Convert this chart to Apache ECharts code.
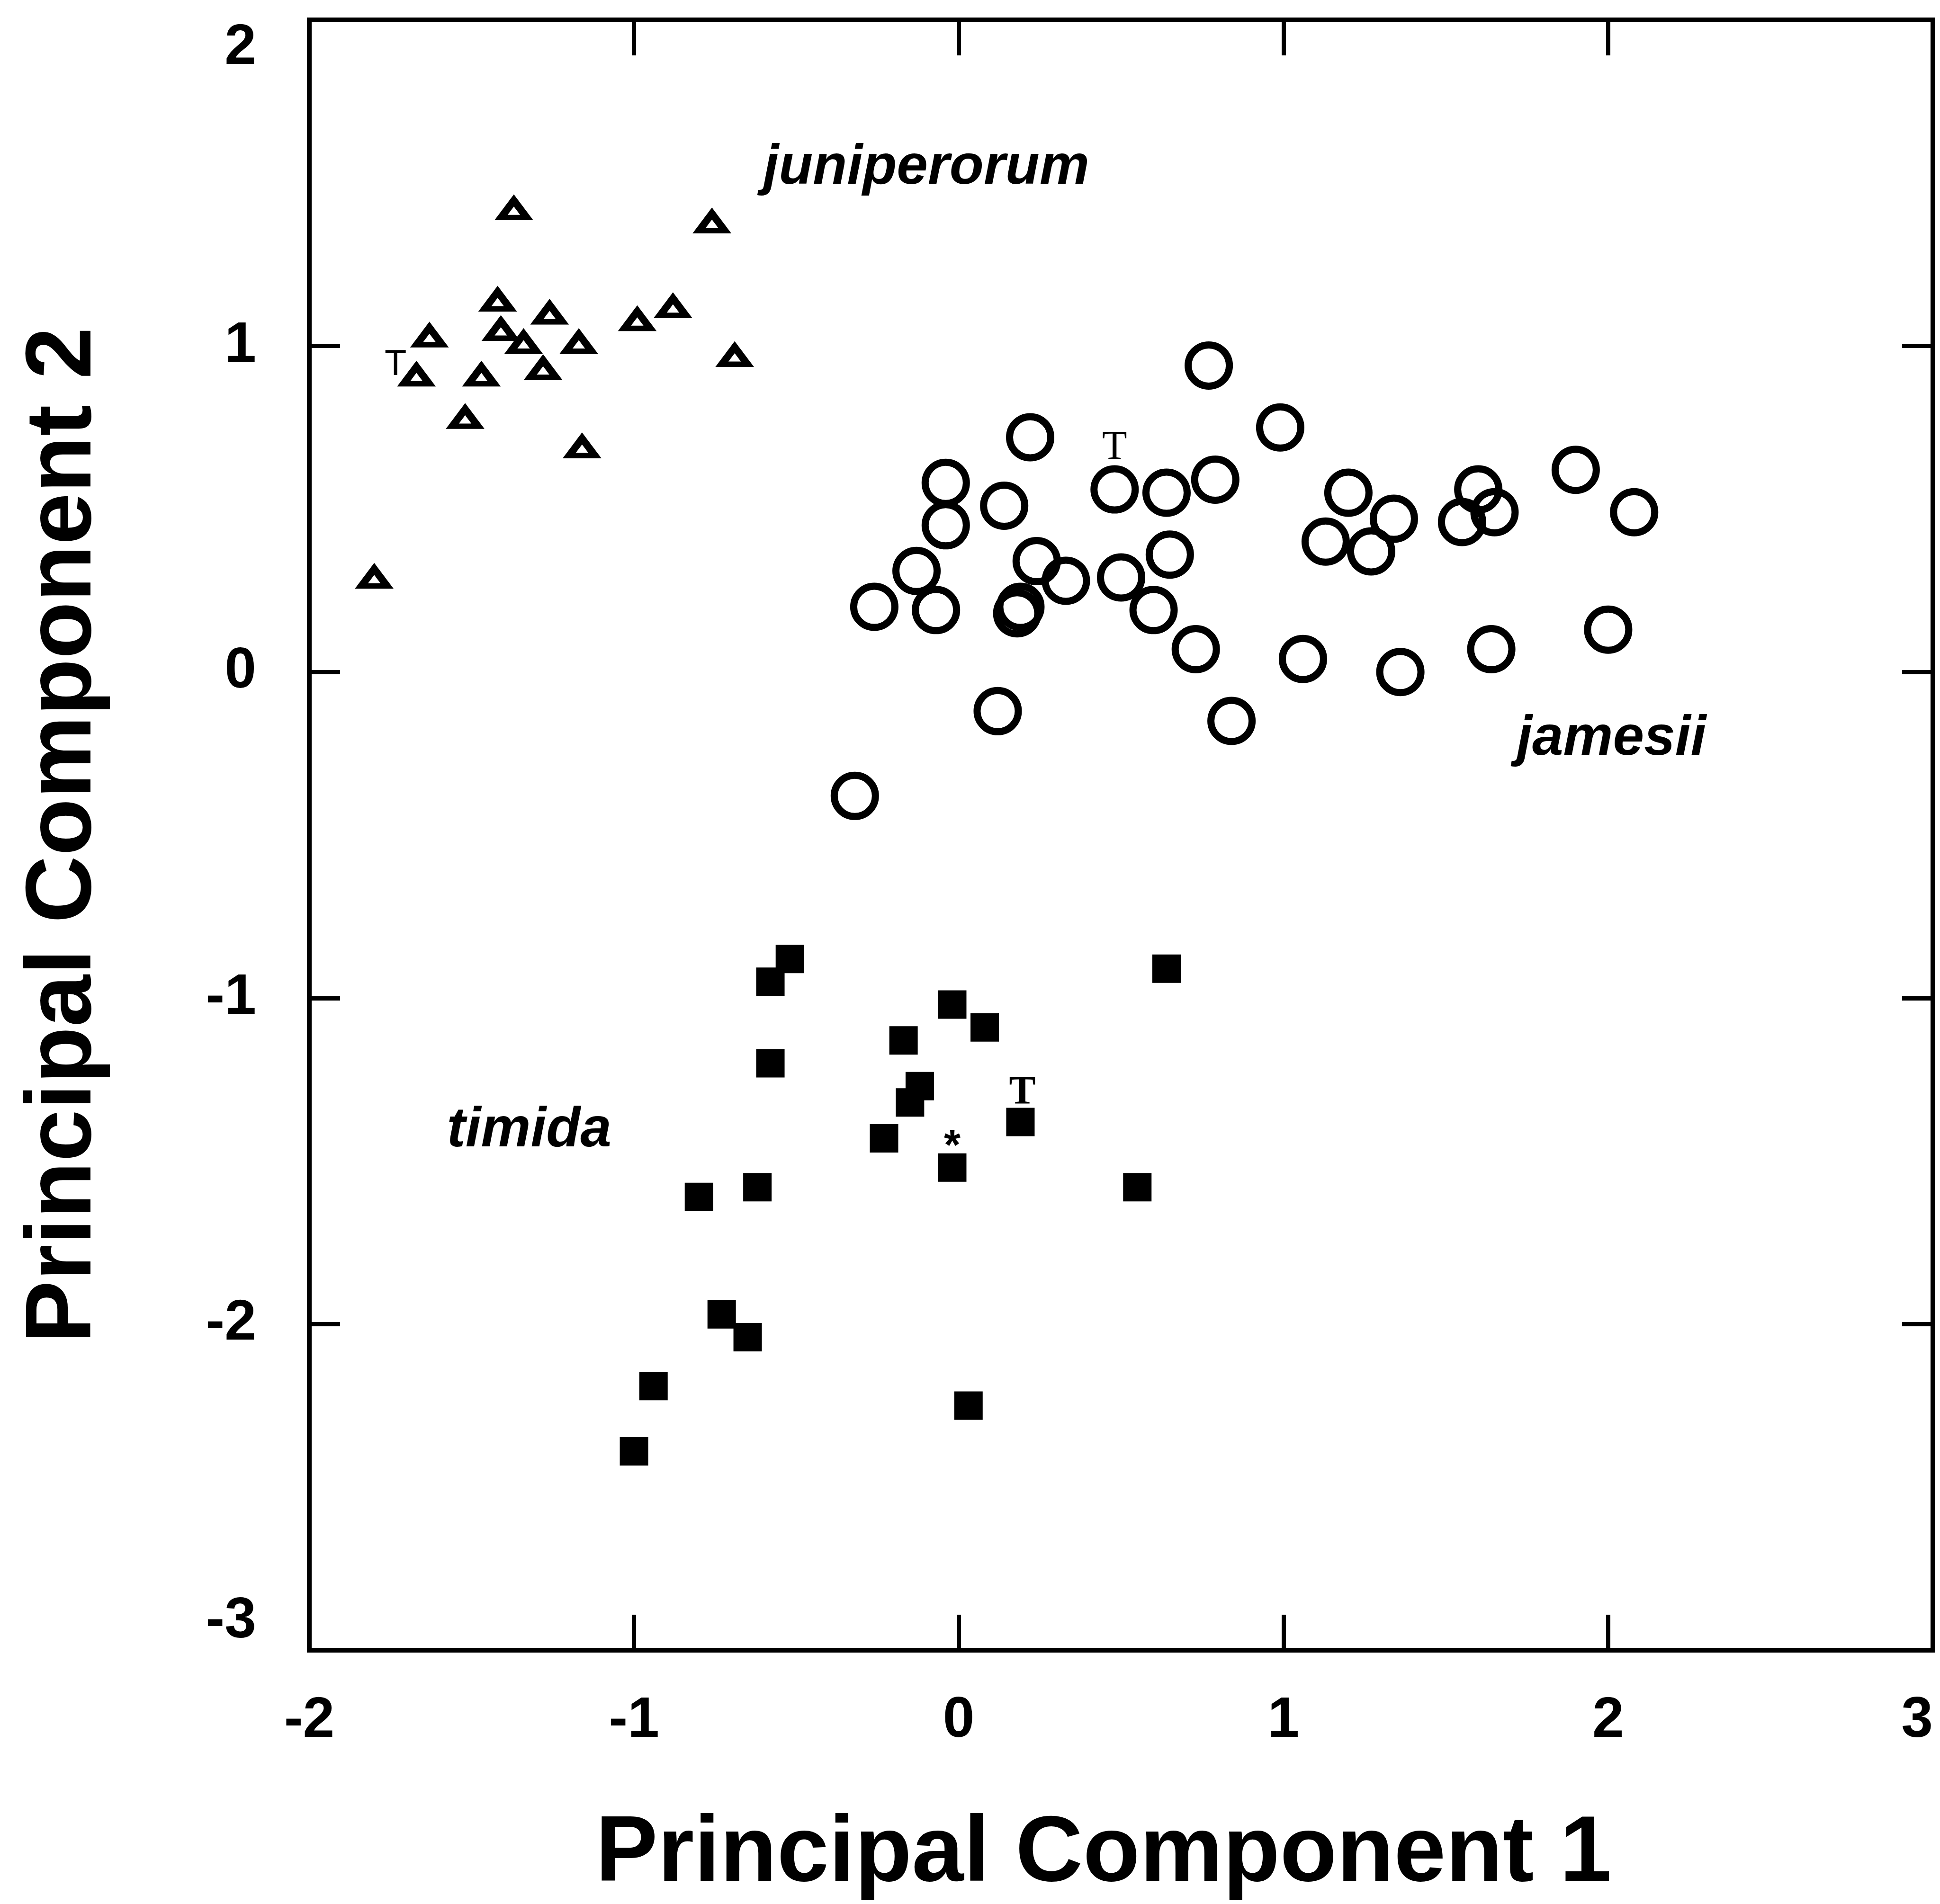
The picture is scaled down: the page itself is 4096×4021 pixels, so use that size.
<!DOCTYPE html>
<html>
<head>
<meta charset="utf-8">
<title>Principal Component 1 vs 2</title>
<script src="https://cdn.jsdelivr.net/npm/echarts@6.0.0/dist/echarts.min.js"></script>
<style>
html, body { margin: 0; padding: 0; background: #fff; }
#chart { width: 4096px; height: 4021px; }
</style>
</head>
<body>
<div id="chart"></div>
<script>
// axis ranges (ticks every 1)
const xTicks = [-2, -1, 0, 1, 2, 3]
const yTicks = [-3, -2, -1, 0, 1, 2]

// juniperorum - open triangles [PC1, PC2]
const juniperorum = [
  [-1.37, 1.42], [-0.76, 1.38], [-1.42, 1.14], [-1.26, 1.10], [-0.99, 1.08],
  [-0.88, 1.12], [-1.63, 1.03], [-1.41, 1.05], [-1.34, 1.01], [-1.17, 1.01],
  [-0.69, 0.97], [-1.67, 0.91], [-1.47, 0.91], [-1.28, 0.93], [-1.52, 0.78],
  [-1.16, 0.69], [-1.80, 0.29]
]

// jamesii - open circles
const jamesii = [
  [0.77, 0.94], [0.22, 0.72], [0.99, 0.75], [0.48, 0.56], [0.64, 0.55],
  [0.79, 0.59], [-0.04, 0.58], [-0.04, 0.45], [0.14, 0.51], [-0.13, 0.31],
  [-0.26, 0.20], [-0.07, 0.19], [0.24, 0.34], [0.33, 0.28], [0.18, 0.18],
  [0.19, 0.20], [0.50, 0.29], [0.65, 0.36], [0.60, 0.19], [0.73, 0.07],
  [1.06, 0.04], [1.13, 0.40], [1.20, 0.55], [1.34, 0.47], [1.27, 0.37],
  [1.60, 0.56], [1.65, 0.49], [1.55, 0.46], [1.90, 0.62], [2.08, 0.49],
  [1.36, 0.00], [1.64, 0.07], [2.00, 0.13], [0.12, -0.12], [0.84, -0.15],
  [-0.32, -0.38]
]

// timida - filled squares
const timida = [
  [-0.52, -0.88], [-0.58, -0.95], [0.64, -0.91], [-0.02, -1.02], [0.08, -1.09],
  [-0.17, -1.13], [-0.58, -1.20], [-0.12, -1.27], [-0.15, -1.32], [0.19, -1.38],
  [-0.23, -1.43], [-0.02, -1.52], [-0.62, -1.58], [-0.80, -1.61], [0.55, -1.58],
  [-0.73, -1.97], [-0.65, -2.04], [-0.94, -2.19], [0.03, -2.25], [-1.00, -2.39]
]

// species names, written at these data coordinates
const speciesNames = ['juniperorum', 'jamesii', 'timida']
const speciesAt = [[-0.10, 1.545], [2.01, -0.207], [-1.323, -1.408]]

// single specimens marked with a letter: [species, point index, mark]
const specimenMarks = [
  ['juniperorum', 11, 'T'],
  ['jamesii', 3, 'T'],
  ['timida', 9, 'T'],
  ['timida', 11, '*']
]

const tickFont = "'Liberation Sans Narrow', 'Liberation Sans', Arial, sans-serif"
const titleFont = "'Liberation Sans', Arial, sans-serif"

// look of each mark letter
function markLabel(species, text) {
  if (text === '*') {
    return { fontFamily: titleFont, fontWeight: 'bold', fontSize: 90, offset: [0, -42] }
  }
  if (species === 'juniperorum') {
    return { fontFamily: titleFont, fontWeight: 'normal', fontSize: 76, offset: [-44, -22] }
  }
  if (species === 'jamesii') {
    return { fontFamily: "'Liberation Serif', serif", fontWeight: 'normal', fontSize: 86, offset: [0, -87] }
  }
  return { fontFamily: "'Liberation Serif', serif", fontWeight: 'bold', fontSize: 84, offset: [4, -60] }
}

function buildData(species, points) {
  return points.map(function (p, i) {
    let item = { value: p }
    specimenMarks.forEach(function (m) {
      if (m[0] === species && m[1] === i) {
        let l = markLabel(species, m[2])
        item.label = {
          show: true,
          position: 'inside',
          formatter: m[2],
          color: '#000',
          fontFamily: l.fontFamily,
          fontWeight: l.fontWeight,
          fontSize: l.fontSize,
          offset: l.offset
        }
      }
    })
    return item
  })
}

function xAxisDef(pos) {
  return {
    type: 'value',
    position: pos,
    min: xTicks[0],
    max: xTicks[xTicks.length - 1],
    interval: 1,
    axisLine: { show: false, onZero: false },
    splitLine: { show: false },
    axisTick: { show: true, inside: true, length: 75, lineStyle: { color: '#000', width: 9 } },
    axisLabel: {
      show: pos === 'bottom',
      margin: 90,
      color: '#000',
      fontFamily: tickFont,
      fontWeight: 'bold',
      fontSize: 120,
      showMinLabel: true,
      showMaxLabel: true,
      alignMaxLabel: 'right'
    }
  }
}

function yAxisDef(pos) {
  return {
    type: 'value',
    position: pos,
    min: yTicks[0],
    max: yTicks[yTicks.length - 1],
    interval: 1,
    axisLine: { show: false, onZero: false },
    splitLine: { show: false },
    axisTick: { show: true, inside: true, length: 65, lineStyle: { color: '#000', width: 9 } },
    axisLabel: {
      show: pos === 'left',
      margin: 112,
      color: '#000',
      fontFamily: tickFont,
      fontWeight: 'bold',
      fontSize: 120,
      showMinLabel: true,
      showMaxLabel: true,
      verticalAlignMaxLabel: 'top',
      verticalAlignMinLabel: 'bottom'
    }
  }
}

let xBottom = xAxisDef('bottom')
xBottom.name = 'Principal Component 1'
xBottom.nameLocation = 'middle'
xBottom.nameGap = 334
xBottom.nameTextStyle = { fontFamily: titleFont, fontWeight: 'bold', fontSize: 197, color: '#000', padding: [0, 74, 0, 0] }

let yLeft = yAxisDef('left')
yLeft.name = 'Principal Component 2'
yLeft.nameLocation = 'middle'
yLeft.nameGap = 418
yLeft.nameTextStyle = { fontFamily: titleFont, fontWeight: 'bold', fontSize: 197, color: '#000' }

const option = {
  backgroundColor: '#fff',
  animation: false,
  grid: {
    left: 653, right: 15, top: 42, bottom: 529,
    show: true, borderColor: '#000', borderWidth: 10, backgroundColor: '#fff'
  },
  xAxis: [xBottom, xAxisDef('top')],
  yAxis: [yLeft, yAxisDef('right')],
  series: [
    {
      name: 'juniperorum',
      type: 'scatter',
      symbol: 'triangle',
      symbolSize: [54, 36],
      itemStyle: { color: 'rgba(0,0,0,0)', borderColor: '#000', borderWidth: 14, borderJoin: 'miter', borderMiterLimit: 10, opacity: 1 },
      data: buildData('juniperorum', juniperorum)
    },
    {
      name: 'jamesii',
      type: 'scatter',
      symbol: 'circle',
      symbolSize: 87,
      itemStyle: { color: 'rgba(0,0,0,0)', borderColor: '#000', borderWidth: 15, opacity: 1 },
      data: buildData('jamesii', jamesii)
    },
    {
      name: 'timida',
      type: 'scatter',
      symbol: 'rect',
      symbolSize: 60,
      itemStyle: { color: '#000', borderWidth: 0, opacity: 1 },
      data: buildData('timida', timida)
    },
    {
      name: 'species',
      type: 'scatter',
      symbolSize: 1,
      itemStyle: { color: 'rgba(0,0,0,0)', opacity: 1 },
      silent: true,
      label: {
        show: true,
        position: 'inside',
        formatter: '{b}',
        color: '#000',
        fontFamily: titleFont,
        fontStyle: 'italic',
        fontWeight: 'bold',
        fontSize: 118
      },
      data: speciesAt.map(function (p, i) { return { name: speciesNames[i], value: p } })
    }
  ]
}

var myChart = echarts.init(document.getElementById('chart'))
myChart.setOption(option)
</script>
</body>
</html>
